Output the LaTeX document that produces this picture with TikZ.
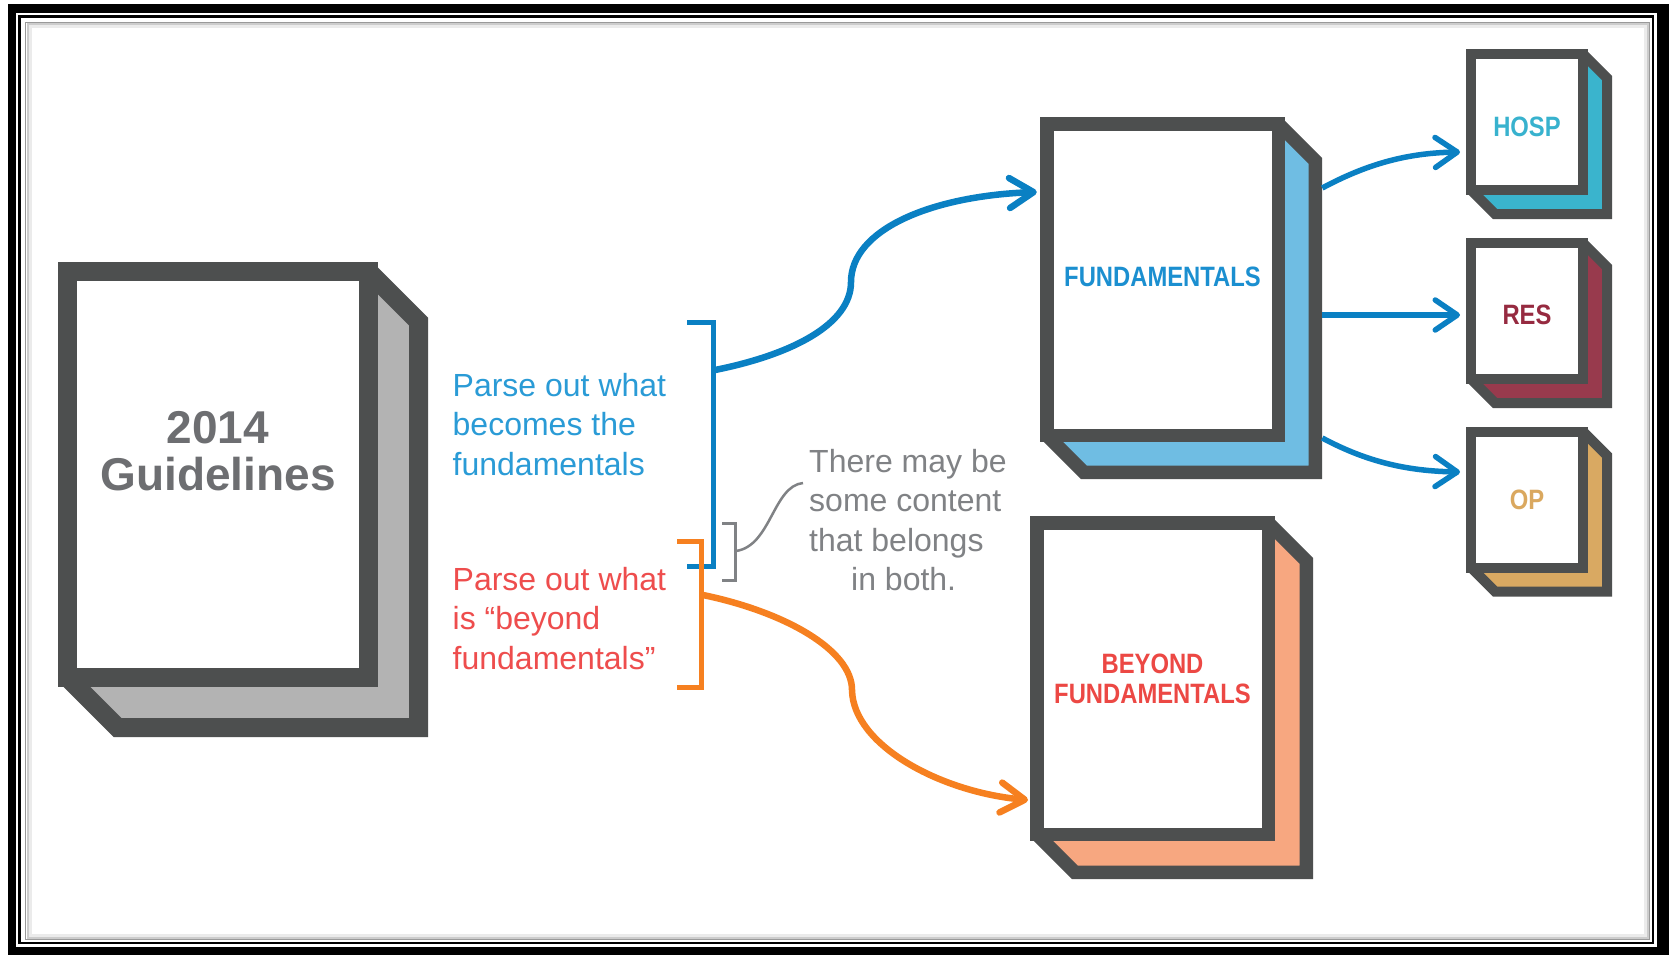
\documentclass[tikz,border=0pt]{standalone}
\usepackage{fontspec}
\setmainfont{Liberation Sans}
\newfontfamily\condfont[FakeStretch=0.85]{Liberation Sans}
\usetikzlibrary{calc, arrows.meta, positioning, backgrounds}

\definecolor{bookline}{RGB}{77,79,79}
\definecolor{guideside}{RGB}{179,179,179}
\definecolor{guidetext}{RGB}{109,110,113}
\definecolor{fundside}{RGB}{111,189,227}
\definecolor{fundtext}{RGB}{27,143,208}
\definecolor{beyondside}{RGB}{247,167,128}
\definecolor{beyondtext}{RGB}{236,72,68}
\definecolor{hospside}{RGB}{58,180,205}
\definecolor{hosptext}{RGB}{56,178,206}
\definecolor{resside}{RGB}{152,58,77}
\definecolor{restext}{RGB}{150,42,64}
\definecolor{opside}{RGB}{217,169,98}
\definecolor{optext}{RGB}{218,168,95}
\definecolor{arrowblue}{RGB}{10,128,195}
\definecolor{arroworange}{RGB}{246,128,32}
\definecolor{bluetext}{RGB}{42,155,214}
\definecolor{redtext}{RGB}{238,77,77}
\definecolor{notegray}{RGB}{128,130,133}

\begin{document}
\begin{tikzpicture}[
    x=1pt, y=-1pt,
    book_front/.style={
            draw=bookline,
            fill=white,
            line join=miter,
            inner sep=0pt,
            outer sep=0pt,
            align=center,
            font=\condfont\bfseries\fontsize{28}{30}\selectfont
        },
    big_book/.style={
            book_front,
            line width=13.5pt,
            minimum width=231.5pt,
            minimum height=311.5pt
        },
    small_book/.style={
            book_front,
            line width=10pt,
            minimum width=112pt,
            minimum height=136pt
        },
    book_side/.style={draw=bookline, line join=miter},
    note_text/.style={inner sep=0pt, font=\fontsize{32}{39.5}\selectfont},
    bracket/.style={line width=5pt, line join=miter},
    big_arrow/.style={line width=6.5pt, -{Straight Barb[length=24pt, width=30pt, round]}},
    small_arrow/.style={line width=5.5pt, -{Straight Barb[length=22pt, width=30pt, round]}},
    note_line/.style={notegray, line width=2.5pt}
    ]

    \useasboundingbox (0,0) rectangle (1669,955);

    % --- Books ---
    \node[book_front, line width=19pt, minimum width=301pt, minimum height=406pt] (guide) at (218,474.5) {};
    \node[note_text, text=guidetext, font=\bfseries\fontsize{46}{47}\selectfont, align=center, anchor=north] (guide_label) at ($(guide.center)+(0,-63.5)$) {2014\\Guidelines};

    \node[big_book, text=fundtext] (fund) at (1162.5,279.5) {\raisebox{3pt}[\height][\depth]{FUNDAMENTALS}};
    \node[big_book, text=beyondtext, below=87.5pt of fund, xshift=-10pt] (beyond) {BEYOND\\FUNDAMENTALS};

    \node[small_book, text=hosptext] (hosp) at (1527,122) {\raisebox{-5pt}[\height][\depth]{HOSP}};
    \node[small_book, text=restext, below=53pt of hosp] (res) {\raisebox{-4pt}[\height][\depth]{RES}};
    \node[small_book, text=optext, below=52.5pt of res] (op) {OP};

    % --- Notes ---
    \node[note_text, text=bluetext, align=left, anchor=north west] (fund_note) at (452.5,373) {Parse out what\\becomes the\\fundamentals};
    \node[note_text, text=redtext, align=left, anchor=north west] (beyond_note) at (452.5,567) {Parse out what\\is “beyond\\fundamentals”};
    \node[note_text, text=notegray, align=left, anchor=north west] (both_note) at (809,449) {There may be\\some content\\that belongs\\\hspace*{42pt}in both.};

    % --- Brackets ---
    \coordinate (fund_brk) at (715,370);
    \coordinate (beyond_brk) at (703,595);
    \coordinate (both_brk) at (736,551);
    \draw[bracket, arrowblue] (687,322) -| (713,566) -- (687,566);
    \draw[bracket, arroworange] (677,541) -| (701,687) -- (677,687);
    \draw[bracket, notegray, line width=3pt] (722,523) -| (735,580) -- (722,580);
    \draw[note_line] (both_brk) .. controls +(35,-5) and +(-30,3) .. ($(both_note.north west)+(-6,34)$);

    % --- Arrows ---
    \draw[big_arrow, arrowblue] (fund_brk) .. controls (790,355) and (851,325) .. (851,282)
        .. controls (851,230) and (930,196) .. ($(fund.west)+(-10,-87.5)$);
    \draw[big_arrow, arroworange] (beyond_brk) .. controls (785,612) and (852,650) .. (852,690)
        .. controls (853,745) and (940,792) .. ($(beyond.west)+(-8.75,121.5)$);

    \coordinate (fund_side) at ($(fund.east)+(44,0)$);
    \coordinate (res_in) at ($(res.west)+(-11,4)$);
    \draw[small_arrow, arrowblue] ($(fund_side)+(0,-91.5)$) .. controls +(43,-23) and +(-55,1) .. ($(hosp.west)+(-11,30)$);
    \draw[small_arrow, arrowblue] (fund_side |- res_in) -- (res_in);
    \draw[small_arrow, arrowblue] ($(fund_side)+(0,158.5)$) .. controls +(43,23) and +(-55,-1) .. ($(op.west)+(-11,-27.5)$);

    % --- Frame and book sides (behind) ---
    \begin{scope}[on background layer]
        \fill[white] (0,0) rectangle (1669,955);
        \fill[black] (8,4) rectangle (1669,955);
        \fill[white] (16,13) rectangle (1657,947);
        \draw[line width=2.5pt] (19.5,16.5) rectangle (1653,943);
        \draw[black!40, line width=1.5pt] (25.5,22.5) rectangle (1649.5,939.5);
        \draw[black!20, line width=2pt] (27.5,24.5) rectangle (1647.5,937.5);
        \draw[black!8, line width=3pt] (30,27) rectangle (1645,935);

        \draw[book_side, line width=19pt, fill=guideside] (guide.north east) -- ++(50,50)
            -- ($(guide.south east)+(50,50)$) -- ($(guide.south west)+(50,50)$) -- (guide.south west);
        \draw[book_side, line width=13.5pt, fill=fundside] (fund.north east) -- ++(37,37)
            -- ($(fund.south east)+(37,37)$) -- ($(fund.south west)+(37,37)$) -- (fund.south west);
        \draw[book_side, line width=13.5pt, fill=beyondside] (beyond.north east) -- ++(38,38)
            -- ($(beyond.south east)+(38,38)$) -- ($(beyond.south west)+(38,38)$) -- (beyond.south west);
        \draw[book_side, line width=10pt, fill=hospside] (hosp.north east) -- ++(24,24)
            -- ($(hosp.south east)+(24,24)$) -- ($(hosp.south west)+(24,24)$) -- (hosp.south west);
        \draw[book_side, line width=10pt, fill=resside] (res.north east) -- ++(24,24)
            -- ($(res.south east)+(24,24)$) -- ($(res.south west)+(24,24)$) -- (res.south west);
        \draw[book_side, line width=10pt, fill=opside] (op.north east) -- ++(24,24)
            -- ($(op.south east)+(24,24)$) -- ($(op.south west)+(24,24)$) -- (op.south west);
    \end{scope}

\end{tikzpicture}
\end{document}
